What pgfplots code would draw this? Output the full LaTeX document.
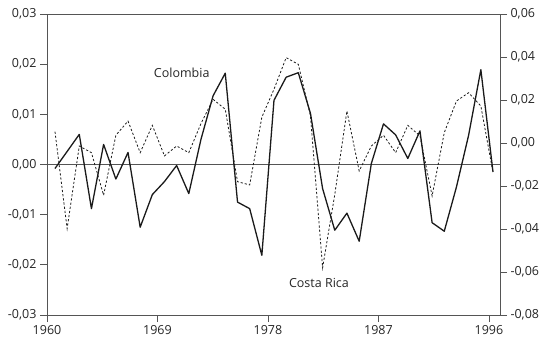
\documentclass[border=0pt]{standalone}
\usepackage{fontspec}
\setmainfont{Open Sans}
\usepackage{pgfplots}
\pgfplotsset{compat=1.18}
\definecolor{axgray}{HTML}{555555}
\definecolor{ln}{HTML}{1A1A1A}
\begin{document}
\begin{tikzpicture}
\pgfplotsset{
  every axis/.append style={
    scale only axis, width=453pt, height=301pt,
    xmin=1960, xmax=1996.9,
    tick align=outside, major tick length=7pt,
    axis line style={axgray, line width=0.8pt},
    every tick/.style={axgray, line width=0.8pt},
    tick label style={font=\fontsize{12.5}{14}\selectfont, text=black!85},
    /pgf/number format/assume math mode=true,
    /pgf/number format/.cd, fixed, fixed zerofill, precision=2, use comma,
  },
}
\begin{axis}[
  ymin=-0.03, ymax=0.03,
  ytick={-0.03,-0.02,-0.01,0,0.01,0.02,0.03},
  xtick={1960,1969,1978,1987,1996},
  xticklabels={1960,1969,1978,1987,1996},
  xtick pos=lower, ytick pos=left,
  scaled y ticks=false,
  yticklabel style={/pgf/number format/.cd, fixed, fixed zerofill, precision=2, use comma},
  clip=false,
]
\addplot[axgray, line width=0.8pt] coordinates {(1960,0) (1996.9,0)};
\addplot[ln, line width=1.3pt, line join=round] coordinates {
(1960.65,-0.0008) (1961.64,0.0026) (1962.63,0.0060) (1963.62,-0.0088)
(1964.61,0.0040) (1965.61,-0.0029) (1966.60,0.0024) (1967.59,-0.0125)
(1968.58,-0.0060) (1969.57,-0.0034) (1970.56,-0.0002) (1971.55,-0.0058)
(1972.54,0.0050) (1973.53,0.0137) (1974.52,0.0182) (1975.52,-0.0075)
(1976.51,-0.0088) (1977.50,-0.0181) (1978.49,0.0128) (1979.48,0.0174)
(1980.47,0.0183) (1981.46,0.0102) (1982.45,-0.0048) (1983.44,-0.0131)
(1984.43,-0.0097) (1985.43,-0.0153) (1986.42,0.0002) (1987.41,0.0081)
(1988.40,0.0059) (1989.39,0.0012) (1990.38,0.0067) (1991.37,-0.0116)
(1992.36,-0.0133) (1993.35,-0.0045) (1994.34,0.0058) (1995.34,0.0189)
(1996.33,-0.0015)
};
\node[font=\fontsize{12.5}{14}\selectfont, text=black!85] at (axis cs:1970.97,0.0183) {Colombia};
\node[font=\fontsize{12.5}{14}\selectfont, text=black!85] at (axis cs:1982.15,-0.0237) {Costa Rica};
\end{axis}
\begin{axis}[
  ymin=-0.08, ymax=0.06,
  ytick={-0.08,-0.06,-0.04,-0.02,0,0.02,0.04,0.06},
  axis y line*=right, axis x line=none,
  scaled y ticks=false,
  yticklabel style={/pgf/number format/.cd, fixed, fixed zerofill, precision=2, use comma},
]
\addplot[ln, line width=0.8pt, dash pattern=on 2.2pt off 2pt] coordinates {
(1960.65,0.0053) (1961.64,-0.0398) (1962.63,-0.0014) (1963.62,-0.0045)
(1964.61,-0.0243) (1965.61,0.0036) (1966.60,0.0102) (1967.59,-0.0045)
(1968.58,0.0082) (1969.57,-0.0060) (1970.56,-0.0014) (1971.55,-0.0045)
(1972.54,0.0090) (1973.53,0.0203) (1974.52,0.0157) (1975.52,-0.0180)
(1976.51,-0.0195) (1977.50,0.0120) (1978.49,0.0250) (1979.48,0.0397)
(1980.47,0.0366) (1981.46,0.0126) (1982.45,-0.0580) (1983.44,-0.0240)
(1984.43,0.0149) (1985.43,-0.0130) (1986.42,-0.0014) (1987.41,0.0036)
(1988.40,-0.0045) (1989.39,0.0082) (1990.38,0.0033) (1991.37,-0.0246)
(1992.36,0.0048) (1993.35,0.0195) (1994.34,0.0234) (1995.34,0.0172)
(1996.33,-0.0138)
};
\end{axis}
\pgfresetboundingbox
\path[use as bounding box] (-47pt,-27pt) rectangle (498pt,315pt);
\end{tikzpicture}
\end{document}
